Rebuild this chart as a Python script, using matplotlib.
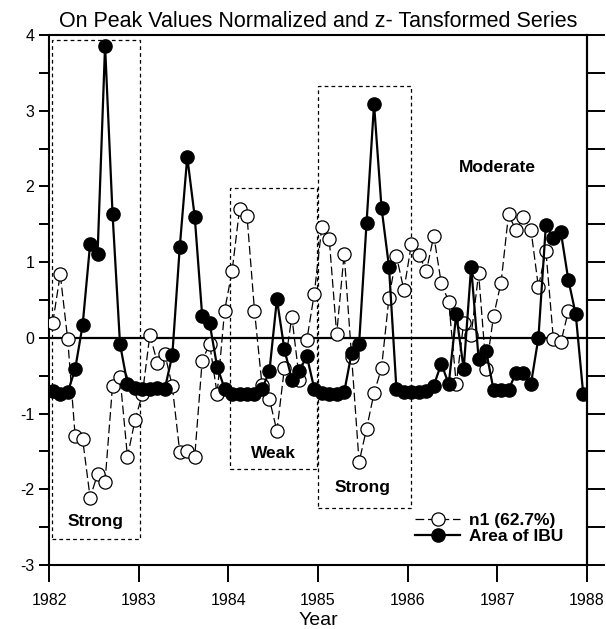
import numpy as np
import matplotlib
matplotlib.use("Agg")
import matplotlib.pyplot as plt
from matplotlib.patches import Rectangle
from matplotlib.ticker import MultipleLocator, NullFormatter

plt.rcParams['font.family'] = ['Liberation Sans', 'DejaVu Sans']
plt.rcParams['axes.unicode_minus'] = False

# monthly values, Jan 1982 .. Dec 1987 (plotted at mid-month)
n1 = [0.20, 0.84, -0.02, -1.30, -1.34, -2.11, -1.80, -1.90, -0.63, -0.52, -1.57, -1.09,
      -0.74, 0.04, -0.33, -0.21, -0.64, -1.51, -1.49, -1.57, -0.30, -0.08, -0.74, 0.36,
      0.88, 1.70, 1.61, 0.36, -0.62, -0.81, -1.23, -0.40, 0.28, -0.55, -0.03, 0.58,
      1.46, 1.31, 0.05, 1.11, -0.25, -1.64, -1.20, -0.73, -0.40, 0.53, 1.08, 0.63,
      1.24, 1.10, 0.88, 1.35, 0.72, 0.48, -0.61, 0.20, 0.04, 0.85, -0.41, 0.29,
      0.73, 1.63, 1.42, 1.59, 1.43, 0.67, 1.15, -0.01, -0.06, 0.35, np.nan, np.nan]
ibu = [-0.70, -0.74, -0.72, -0.41, 0.17, 1.24, 1.11, 3.86, 1.64, -0.08, -0.61, -0.66,
       -0.67, -0.68, -0.66, -0.67, -0.23, 1.20, 2.39, 1.60, 0.29, 0.19, -0.38, -0.67,
       -0.74, -0.74, -0.74, -0.74, -0.68, -0.44, 0.51, -0.15, -0.55, -0.44, -0.24, -0.67,
       -0.73, -0.74, -0.74, -0.72, -0.20, -0.08, 1.52, 3.09, 1.72, 0.94, -0.68, -0.72,
       -0.72, -0.72, -0.70, -0.63, -0.34, -0.61, 0.31, -0.41, 0.94, -0.28, -0.17, -0.69,
       -0.69, -0.69, -0.46, -0.46, -0.61, 0.00, 1.49, 1.32, 1.40, 0.77, 0.31, -0.74]
t = 1982 + (np.arange(len(ibu)) + 0.5) / 12

# dashed boxes: (x0, x1, y0, y1, label, label x, label y)
boxes = [(1982.03, 1983.01, -2.65, 3.93, 'Strong', 1982.52, -2.43),
         (1984.02, 1984.99, -1.73, 1.98, 'Weak', 1984.5, -1.53),
         (1985.00, 1986.04, -2.25, 3.32, 'Strong', 1985.5, -1.98)]

fig = plt.figure(figsize=(6.06, 6.29), dpi=100)
ax = fig.add_axes([0.0809, 0.1017, 0.8877, 0.8427])

ax.plot(t, n1, color='k', lw=0.9, dashes=(7, 3), marker='o', ms=9.5,
        mfc='w', mec='k', mew=0.9, label='n1 (62.7%)', zorder=3)
ax.plot(t, ibu, color='k', lw=1.6, marker='o', ms=9.5,
        mfc='k', mec='k', label='Area of IBU', zorder=4)
ax.axhline(0, color='k', lw=1.6, zorder=2)

for x0, x1, y0, y1, lab, lx, ly in boxes:
    ax.add_patch(Rectangle((x0, y0), x1 - x0, y1 - y0, fill=False, ec='k',
                           lw=0.9, ls=(0, (3, 2.5)), zorder=1))
    ax.text(lx, ly, lab, ha='center', va='center', fontsize=12.5, fontweight='bold')
ax.text(1987.0, 2.25, 'Moderate', ha='center', va='center', fontsize=12.5, fontweight='bold')

ax.set_xlim(1982, 1988)
ax.set_ylim(-3, 4)
ax.xaxis.set_major_locator(MultipleLocator(1))
ax.yaxis.set_major_locator(MultipleLocator(1))
ax.yaxis.set_minor_locator(MultipleLocator(0.5))
ax.tick_params(axis='x', direction='out', length=12, width=1.4, labelsize=11.5, pad=8)
ax.tick_params(axis='y', which='both', direction='out', length=7, width=1.4,
               labelsize=11.5)
for sp in ax.spines.values():
    sp.set_linewidth(1.5)

# right-hand ticks, longer, no labels
rax = ax.secondary_yaxis('right')
rax.yaxis.set_major_locator(MultipleLocator(0.5))
rax.yaxis.set_major_formatter(NullFormatter())
rax.tick_params(direction='out', length=13, width=1.4)
rax.spines['right'].set_linewidth(1.5)

ax.set_xlabel('Year', fontsize=14, labelpad=3)
ax.set_title('On Peak Values Normalized and z- Tansformed Series', fontsize=15.5, pad=6)

ax.legend(loc='lower right', bbox_to_anchor=(0.985, 0.01), frameon=False,
          prop={'weight': 'bold', 'size': 12.5}, handlelength=2.6,
          labelspacing=0.05, handletextpad=0.5)

fig.savefig('out.png', dpi=100)
